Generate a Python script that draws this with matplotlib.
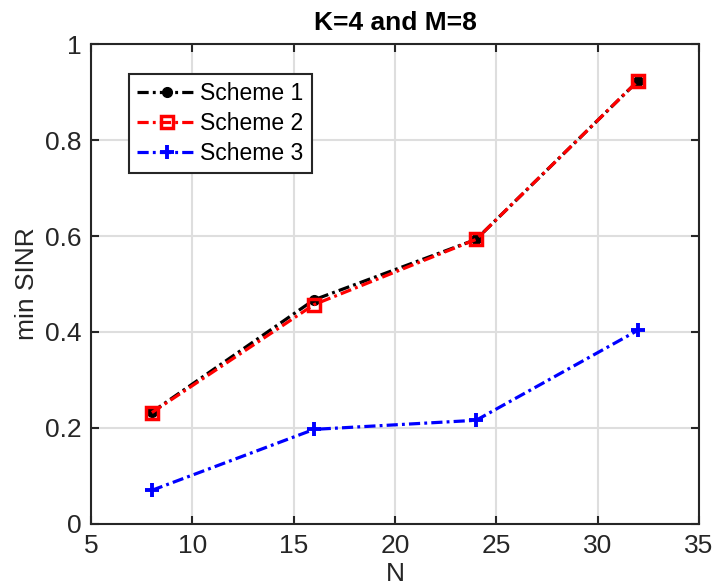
import matplotlib.pyplot as plt

# values
n_values = [8, 16, 24, 32]
scheme1 = [0.233, 0.467, 0.593, 0.924]
scheme2 = [0.232, 0.457, 0.593, 0.924]
scheme3 = [0.070, 0.197, 0.216, 0.404]
labels = ['Scheme 1', 'Scheme 2', 'Scheme 3']

plt.rcParams['font.family'] = ['Liberation Sans', 'DejaVu Sans']

fig = plt.figure(figsize=(7.17, 5.88), dpi=100)
ax = fig.add_axes([0.127, 0.109, 0.848, 0.816])

dash = (3.5, 1.3, 0.9, 1.3)
ax.plot(n_values, scheme1, color='black', marker='o', markersize=7,
        linewidth=2.3, dashes=dash, label=labels[0])
ax.plot(n_values, scheme2, color='red', marker='s', markersize=9,
        markerfacecolor='none', markeredgewidth=2.5, linewidth=2.3,
        dashes=dash, label=labels[1])
ax.plot(n_values, scheme3, color='blue', marker='+', markersize=10,
        markeredgewidth=2.8, linewidth=2.3, dashes=dash, label=labels[2])

ax.set_xlim(5, 35)
ax.set_ylim(0, 1)
ax.set_xticks([5, 10, 15, 20, 25, 30, 35])
ax.set_yticks([0, 0.2, 0.4, 0.6, 0.8, 1])
ax.set_yticklabels(['0', '0.2', '0.4', '0.6', '0.8', '1'])

ax.grid(True, color='#dedede', linewidth=1.5)
ax.set_axisbelow(True)
for s in ax.spines.values():
    s.set_color('#262626')
    s.set_linewidth(1.5)
ax.tick_params(direction='in', top=True, right=True, length=6, width=1.5,
               colors='#262626', labelsize=19, pad=7)

ax.set_xlabel('N', fontsize=19, color='#262626', labelpad=3)
ax.set_ylabel('min SINR', fontsize=19, color='#262626', labelpad=4)
ax.set_title('K=4 and M=8', fontsize=19, fontweight='bold', pad=10)

leg = ax.legend(loc='upper left', bbox_to_anchor=(0.063, 0.937), fontsize=16.5,
                fancybox=False, framealpha=1, edgecolor='#262626',
                handlelength=2.6, handletextpad=0.15, borderpad=0.35,
                labelspacing=0.3, borderaxespad=0)
leg.get_frame().set_linewidth(1.5)

fig.savefig('out.png', dpi=100)
